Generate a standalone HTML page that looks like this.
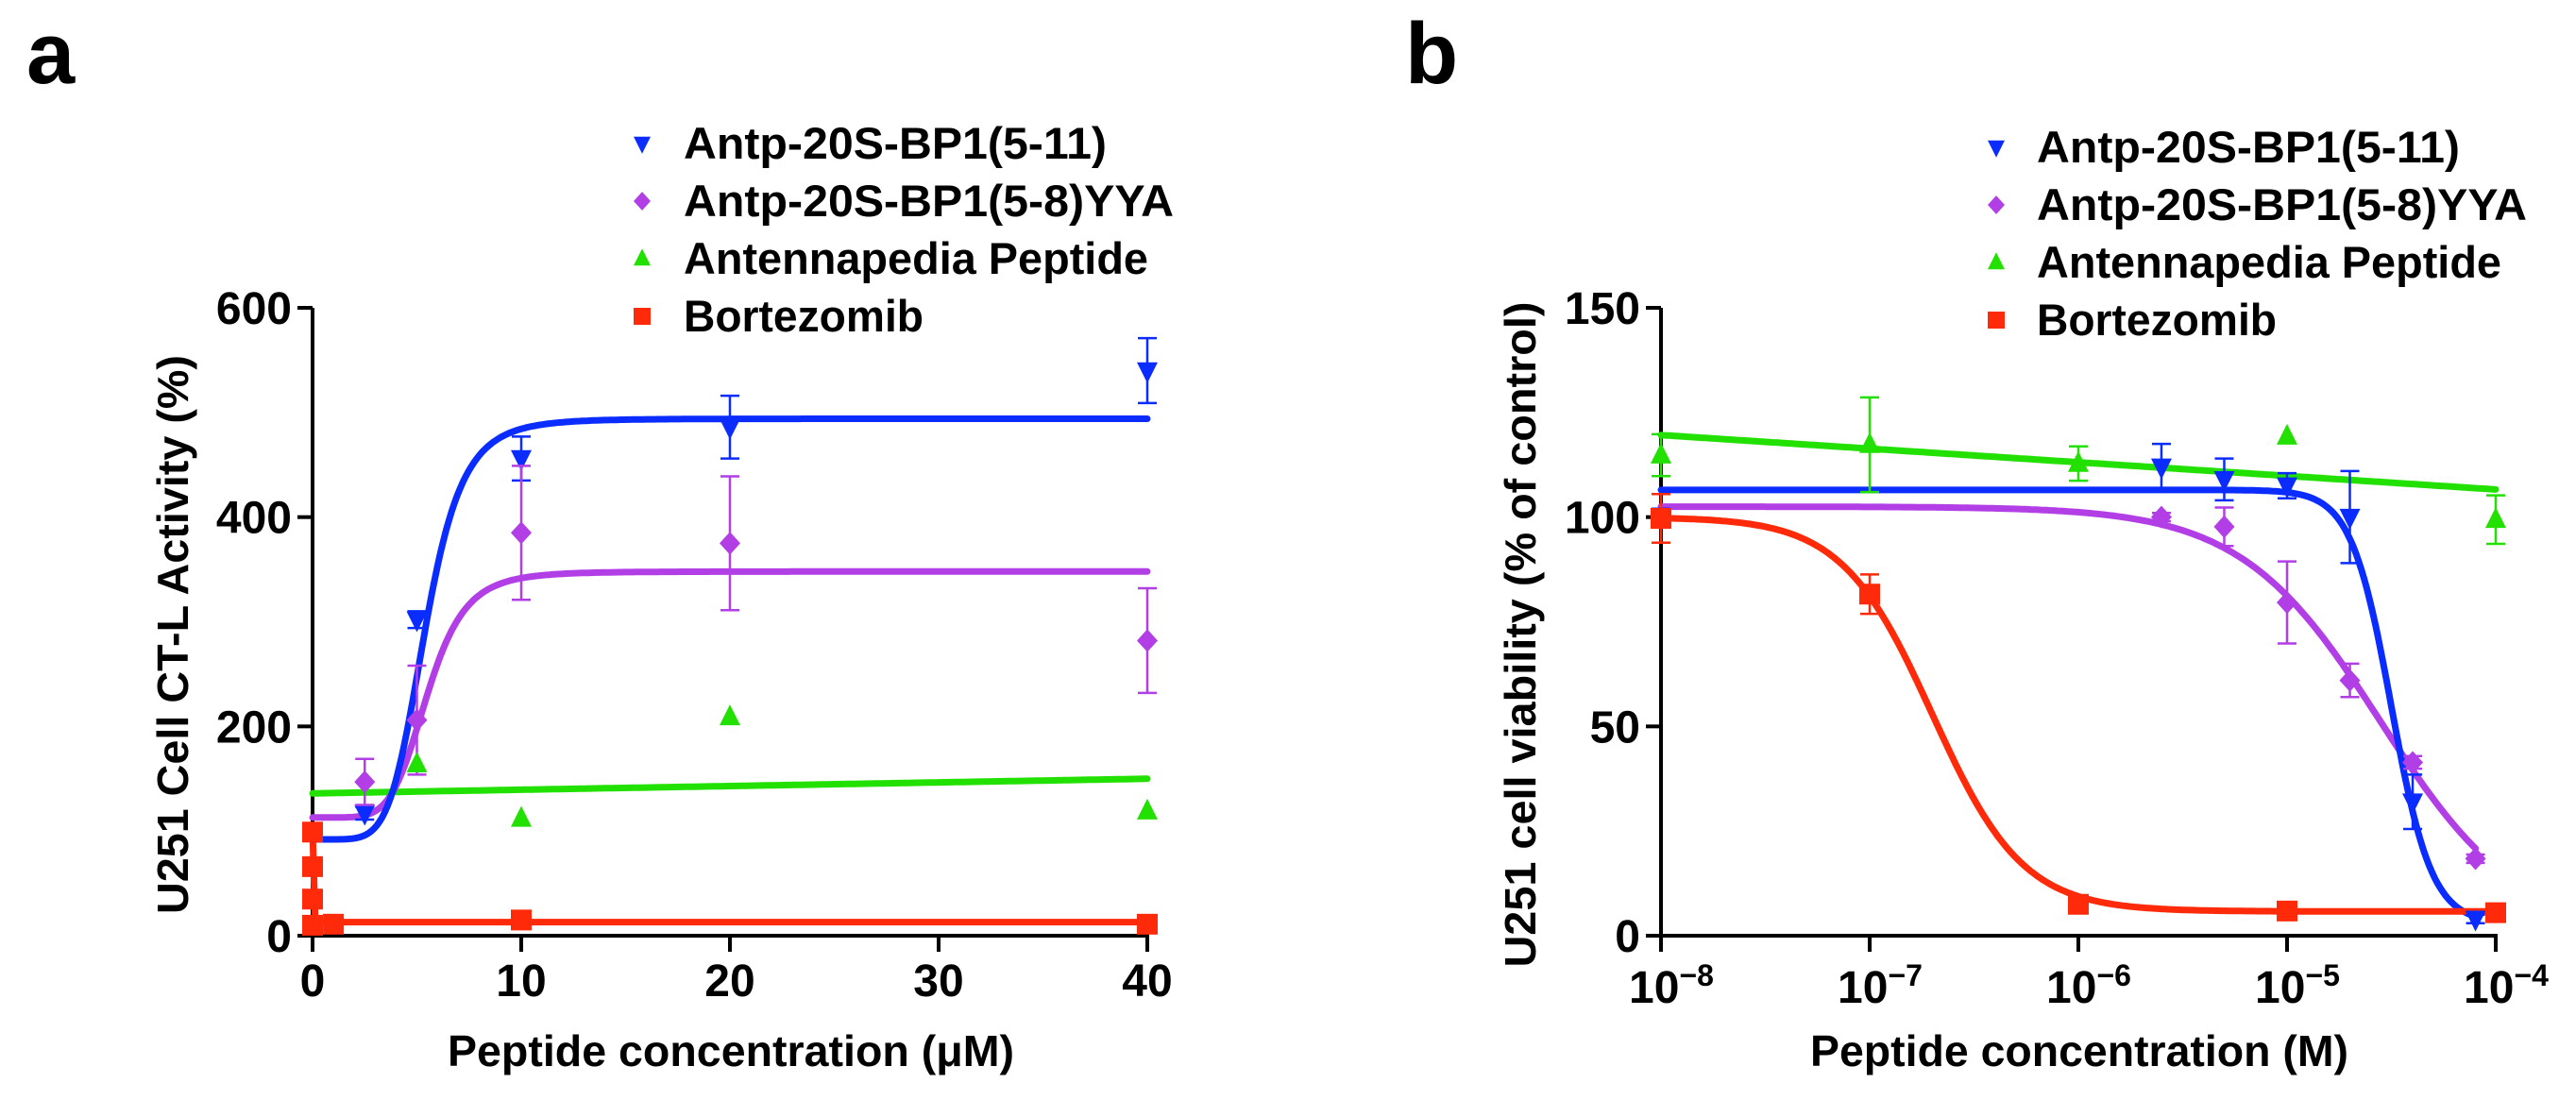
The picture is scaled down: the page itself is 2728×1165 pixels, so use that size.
<!DOCTYPE html>
<html><head><meta charset="utf-8">
<style>
html,body{margin:0;padding:0;background:#fff;}
svg{display:block;font-family:"Liberation Sans",Arial,sans-serif;font-weight:bold;}
</style></head>
<body>
<svg id="fig" width="2728" height="1165" viewBox="0 0 2728 1165" xmlns="http://www.w3.org/2000/svg"></svg>
<script>
// ---------- Panel a data ----------
const aX = [0, 2.5, 5, 10, 20, 40];
const aBlue = [100, 117, 302, 456, 486, 540];
const aBlueErr = [4, 6, 8, 21, 30, 31];
const aPurpleX = [2.5, 5, 10, 20, 40];
const aPurple = [147, 206, 385, 375, 282];
const aPurpleErr = [22, 52, 64, 64, 50];
const aGreenX = [5, 10, 20, 40];
const aGreen = [164, 112, 209, 119];
const aRedX = [0, 0, 0, 0, 1, 10, 40];
const aRed = [99, 66, 35, 10, 11, 15, 11];
const aBlueFit = [92, 494, 5.4, 6];      // bottom, top, EC50, hill
const aPurpleFit = [113, 348, 5.5, 6];
const aGreenFit = [136, 150];            // value at x=0, at x=40
const aRedFit = [100, 13, 0.08];         // start, plateau, decay
const aXTicks = [0, 10, 20, 30, 40];
const aYTicks = [0, 200, 400, 600];

// ---------- Panel b data (log10 M) ----------
const bBlueX = [-8, -5.602, -5.301, -5, -4.699, -4.398, -4.097];
const bBlue = [100, 112, 109, 107.5, 100, 32, 4];
const bBlueErr = [2, 5.5, 5, 3, 11, 6.5, 1];
const bPurpleX = [-8, -5.602, -5.301, -5, -4.699, -4.398, -4.097];
const bPurple = [100, 100, 97.7, 79.6, 61, 41.4, 18.4];
const bPurpleErr = [1, 1, 4.6, 9.8, 4, 1.5, 1];
const bGreenX = [-8, -7, -6, -5, -4];
const bGreen = [114.8, 117.3, 112.8, 119.3, 99.4];
const bGreenErr = [5, 11.3, 4.1, 0, 5.8];
const bRedX = [-8, -7, -6, -5, -4];
const bRed = [99.7, 81.6, 7.5, 5.9, 5.5];
const bRedErr = [5.8, 4.7, 0.5, 0.5, 0.5];
const bBlueFit = [106.5, 3, -4.5, 4.5];     // top, bottom, logIC50, hill
const bPurpleFit = [102.5, 0, -4.553, 1.3];
const bRedFit = [100, 5.8, -6.7, 2];
const bGreenFit = [119.6, 106.6];          // at 1e-8, at 1e-4
const bXTicks = [-8, -7, -6, -5, -4];
const bYTicks = [0, 50, 100, 150];

const legendNames = ["Antp-20S-BP1(5-11)", "Antp-20S-BP1(5-8)YYA", "Antennapedia Peptide", "Bortezomib"];
const legendWidths = [448, 519, 492, 254];
const COL = {blue:"#0a2cff", purple:"#b23fe6", green:"#22e000", red:"#ff2a0a"};
const colors = [COL.blue, COL.purple, COL.green, COL.red];
const shapes = ["tri-down", "diamond", "tri-up", "square"];

const NS = "http://www.w3.org/2000/svg";
const svg = document.getElementById("fig");
function el(tag, attrs, parent) {
  const e = document.createElementNS(NS, tag);
  for (const k in attrs) e.setAttribute(k, attrs[k]);
  (parent || svg).appendChild(e);
  return e;
}

const Y0 = 991, YTOP = 326;
const ax = v => 331 + v * 22.1;
const ay = v => Y0 - v / 600 * (Y0 - YTOP);
const bx = v => 1759 + (v + 8) * 221;
const by = v => Y0 - v / 150 * (Y0 - YTOP);

function marker(g, shape, x, y, c, s) {
  s = s || 11;
  let m;
  if (shape === "square") m = el("rect", {x: x - s, y: y - s, width: 2 * s, height: 2 * s, fill: c}, g);
  else if (shape === "diamond") m = el("polygon", {points: `${x},${y - s * 1.1} ${x + s},${y} ${x},${y + s * 1.1} ${x - s},${y}`, fill: c}, g);
  else if (shape === "tri-up") m = el("polygon", {points: `${x},${y - s * 1.2} ${x + s},${y + s * 0.8} ${x - s},${y + s * 0.8}`, fill: c}, g);
  else m = el("polygon", {points: `${x},${y + s * 1.2} ${x + s},${y - s * 0.8} ${x - s},${y - s * 0.8}`, fill: c}, g);
  return m;
}
function errbar(g, x, y1, y2, c) {
  el("line", {x1: x, x2: x, y1: y1, y2: y2, stroke: c, "stroke-width": 2.5}, g);
  el("line", {x1: x - 10, x2: x + 10, y1: y1, y2: y1, stroke: c, "stroke-width": 2.5}, g);
  el("line", {x1: x - 10, x2: x + 10, y1: y2, y2: y2, stroke: c, "stroke-width": 2.5}, g);
}
function curve(g, fx, fy, f, x0, x1, c, name) {
  let d = "";
  for (let i = 0; i <= 300; i++) {
    const v = x0 + (x1 - x0) * i / 300;
    d += (i ? "L" : "M") + fx(v).toFixed(1) + "," + fy(f(v)).toFixed(1);
  }
  const p = el("path", {d: d, fill: "none", stroke: c, "stroke-width": 7, "stroke-linecap": "round"}, g);
  
  
}
function text(g, x, y, s, size, anchor, extra) {
  const t = el("text", Object.assign({x: x, y: y, "font-size": size, "text-anchor": anchor || "start"}, extra || {}), g);
  t.textContent = s;
  return t;
}
function legend(g, mx, tx, y0) {
  for (let i = 0; i < 4; i++) {
    const y = y0 + i * 61;
    const it = el("g", {}, g);
    
    
    marker(it, shapes[i], mx, y - 16, colors[i], 9);
    text(it, tx, y, legendNames[i], 47, "start", {textLength: legendWidths[i], lengthAdjust: "spacingAndGlyphs"});
  }
}

// ================= Panel a =================
const ga = el("g", {});


text(ga, 28, 88, "a", 92);
el("line", {x1: 331, x2: 331, y1: YTOP, y2: Y0, stroke: "#000", "stroke-width": 4}, ga);
el("line", {x1: 315, x2: ax(40) + 2, y1: Y0, y2: Y0, stroke: "#000", "stroke-width": 4}, ga);
aYTicks.forEach(v => {
  el("line", {x1: 315, x2: 331, y1: ay(v), y2: ay(v), stroke: "#000", "stroke-width": 4}, ga);
  const t = text(ga, 309, ay(v) + 17, String(v), 48, "end");
  
  
});
aXTicks.forEach(v => {
  el("line", {x1: ax(v), x2: ax(v), y1: Y0, y2: Y0 + 17, stroke: "#000", "stroke-width": 4}, ga);
  const t = text(ga, ax(v), 1055, String(v), 48, "middle");
  
  
});
const ayt = text(ga, 0, 0, "U251 Cell CT-L Activity (%)", 46, "middle", {transform: "translate(199,672) rotate(-90)", textLength: 592, lengthAdjust: "spacingAndGlyphs"});

const axt = text(ga, 774, 1129, "Peptide concentration (\u03bcM)", 46, "middle", {textLength: 600, lengthAdjust: "spacingAndGlyphs"});


curve(ga, ax, ay, v => aGreenFit[0] + (aGreenFit[1] - aGreenFit[0]) * v / 40, 0, 40, COL.green, 'green-fit-line');
curve(ga, ax, ay, v => aPurpleFit[0] + (aPurpleFit[1] - aPurpleFit[0]) / (1 + Math.pow(aPurpleFit[2] / Math.max(v, 1e-6), aPurpleFit[3])), 0, 40, COL.purple, 'purple-fit-line');
curve(ga, ax, ay, v => aBlueFit[0] + (aBlueFit[1] - aBlueFit[0]) / (1 + Math.pow(aBlueFit[2] / Math.max(v, 1e-6), aBlueFit[3])), 0, 40, COL.blue, 'blue-fit-line');
curve(ga, ax, ay, v => aRedFit[1] + (aRedFit[0] - aRedFit[1]) * Math.exp(-v / aRedFit[2] * 10), 0, 40, COL.red, 'red-fit-line');
aBlue.forEach((v, i) => {
  errbar(ga, ax(aX[i]), ay(v + aBlueErr[i]), ay(v - aBlueErr[i]), COL.blue);
  const m = marker(ga, "tri-down", ax(aX[i]), ay(v), COL.blue);
  
  
});
aPurple.forEach((v, i) => {
  errbar(ga, ax(aPurpleX[i]), ay(v + aPurpleErr[i]), ay(v - aPurpleErr[i]), COL.purple);
  const m = marker(ga, "diamond", ax(aPurpleX[i]), ay(v), COL.purple);
  
  
});
aGreen.forEach((v, i) => {
  const m = marker(ga, "tri-up", ax(aGreenX[i]), ay(v), COL.green);
  
  
});
aRed.forEach((v, i) => {
  const m = marker(ga, "square", ax(aRedX[i]), ay(v), COL.red);
  
  
});
const lga = el("g", {}, ga);


legend(lga, 680, 724, 168);

// ================= Panel b =================
const gb = el("g", {});


text(gb, 1488, 88, "b", 92);
el("line", {x1: 1759, x2: 1759, y1: YTOP, y2: Y0, stroke: "#000", "stroke-width": 4}, gb);
el("line", {x1: 1743, x2: bx(-4) + 2, y1: Y0, y2: Y0, stroke: "#000", "stroke-width": 4}, gb);
bYTicks.forEach(v => {
  el("line", {x1: 1743, x2: 1759, y1: by(v), y2: by(v), stroke: "#000", "stroke-width": 4}, gb);
  const t = text(gb, 1737, by(v) + 17, String(v), 48, "end");
  
  
});
bXTicks.forEach(v => {
  el("line", {x1: bx(v), x2: bx(v), y1: Y0, y2: Y0 + 17, stroke: "#000", "stroke-width": 4}, gb);
  const t = el("text", {x: bx(v) - 34, y: 1062, "font-size": 48}, gb);
  
  
  t.textContent = "10";
  const sup = el("tspan", {dy: -18, "font-size": 32}, t);
  sup.textContent = "\u2212" + Math.abs(v);
});
const byt = text(gb, 0, 0, "U251 cell viability (% of control)", 46, "middle", {transform: "translate(1626,672) rotate(-90)", textLength: 705, lengthAdjust: "spacingAndGlyphs"});

const bxt = text(gb, 2202, 1129, "Peptide concentration (M)", 46, "middle", {textLength: 570, lengthAdjust: "spacingAndGlyphs"});


const logistic = p => v => p[1] + (p[0] - p[1]) / (1 + Math.pow(10, (v - p[2]) * p[3]));
curve(gb, bx, by, v => bGreenFit[0] + (bGreenFit[1] - bGreenFit[0]) * (v + 8) / 4, -8, -4, COL.green, 'green-fit-line');
curve(gb, bx, by, logistic(bPurpleFit), -8, -4.097, COL.purple, 'purple-fit-line');
curve(gb, bx, by, logistic(bBlueFit), -8, -4.097, COL.blue, 'blue-fit-line');
curve(gb, bx, by, logistic(bRedFit), -8, -4, COL.red, 'red-fit-line');

bGreen.forEach((v, i) => {
  if (bGreenErr[i] > 0) errbar(gb, bx(bGreenX[i]), by(v + bGreenErr[i]), by(v - bGreenErr[i]), COL.green);
  const m = marker(gb, "tri-up", bx(bGreenX[i]), by(v), COL.green);
  
  
});
bPurple.forEach((v, i) => {
  errbar(gb, bx(bPurpleX[i]), by(v + bPurpleErr[i]), by(v - bPurpleErr[i]), COL.purple);
  const m = marker(gb, "diamond", bx(bPurpleX[i]), by(v), COL.purple);
  
  
});
bBlue.forEach((v, i) => {
  errbar(gb, bx(bBlueX[i]), by(v + bBlueErr[i]), by(v - bBlueErr[i]), COL.blue);
  const m = marker(gb, "tri-down", bx(bBlueX[i]), by(v), COL.blue);
  
  
});
bRed.forEach((v, i) => {
  errbar(gb, bx(bRedX[i]), by(v + bRedErr[i]), by(v - bRedErr[i]), COL.red);
  const m = marker(gb, "square", bx(bRedX[i]), by(v), COL.red);
  
  
});
const lgb = el("g", {}, gb);


legend(lgb, 2114, 2157, 172);
</script>
</body></html>
